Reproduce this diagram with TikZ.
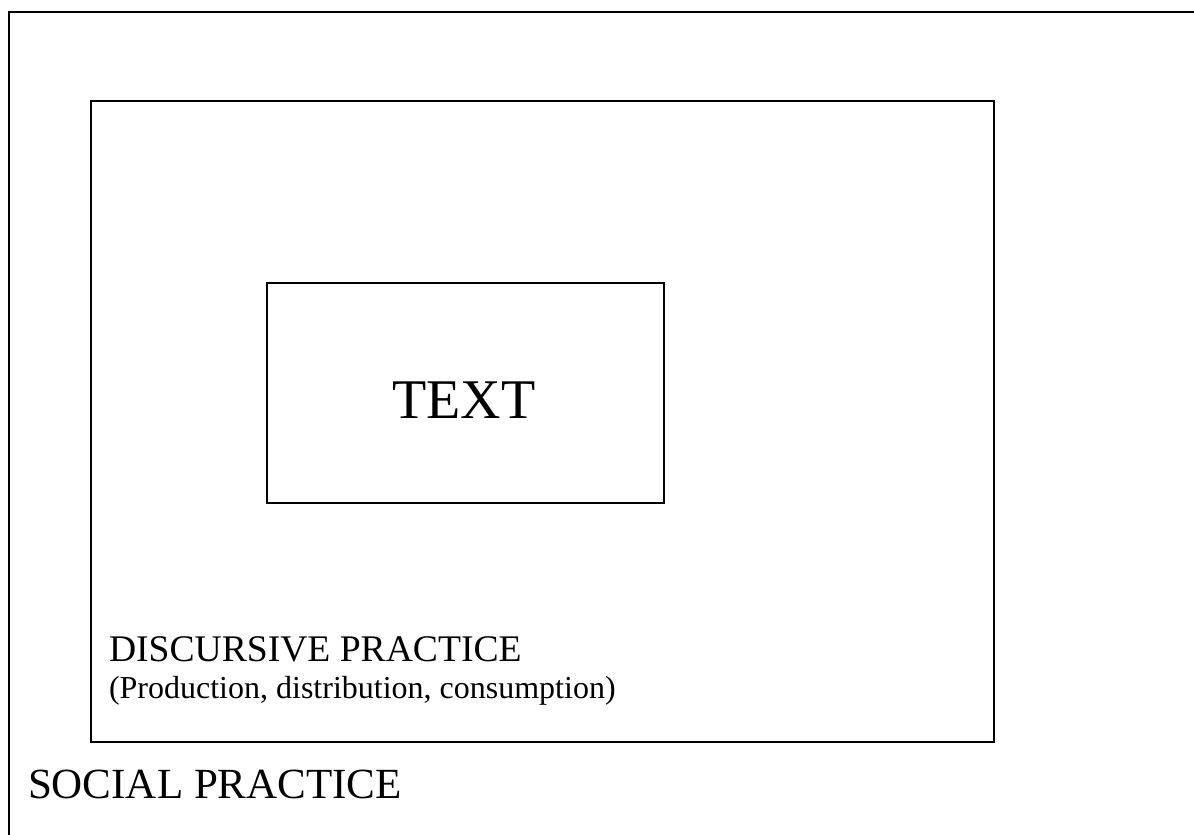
\documentclass[tikz,border=0pt]{standalone}
\usepackage{fontspec}
\setmainfont{Liberation Serif}
\begin{document}
\begin{tikzpicture}[x=1pt,y=-1pt,
  framebox/.style={draw=black,line width=1.6pt,inner sep=0pt,fill=none},
  lbl/.style={inner sep=0pt,outer sep=0pt,text=black}]
\useasboundingbox (0,0) rectangle (1194,835);
\fill[white] (0,0) rectangle (1194,835);
\begin{scope}
\clip (0,0) rectangle (1194,835);
% outer box (social practice), right and bottom edges lie outside the picture
\node[framebox,line width=2.2pt,minimum width=1220pt,minimum height=850pt,anchor=north west] (sp) at (8,11) {};
\end{scope}
\node[framebox,minimum width=903pt,minimum height=641pt,anchor=north west] (dp) at (90,100) {};
\node[framebox,minimum width=397pt,minimum height=220pt,anchor=north west] (tx) at (266,282) {};
\node[lbl,anchor=base] (txl) at (464,418) {\fontsize{56}{60}\selectfont TEXT};
\node[lbl,anchor=base west] (dpl) at (109,661) {\fontsize{37.6}{40}\selectfont DISCURSIVE PRACTICE};
\node[lbl,anchor=base west] (dps) at (109,698) {\fontsize{32}{34}\selectfont (Production, distribution, consumption)};
\node[lbl,anchor=base west] (spl) at (28,798) {\fontsize{43}{46}\selectfont SOCIAL PRACTICE};
\end{tikzpicture}
\end{document}
